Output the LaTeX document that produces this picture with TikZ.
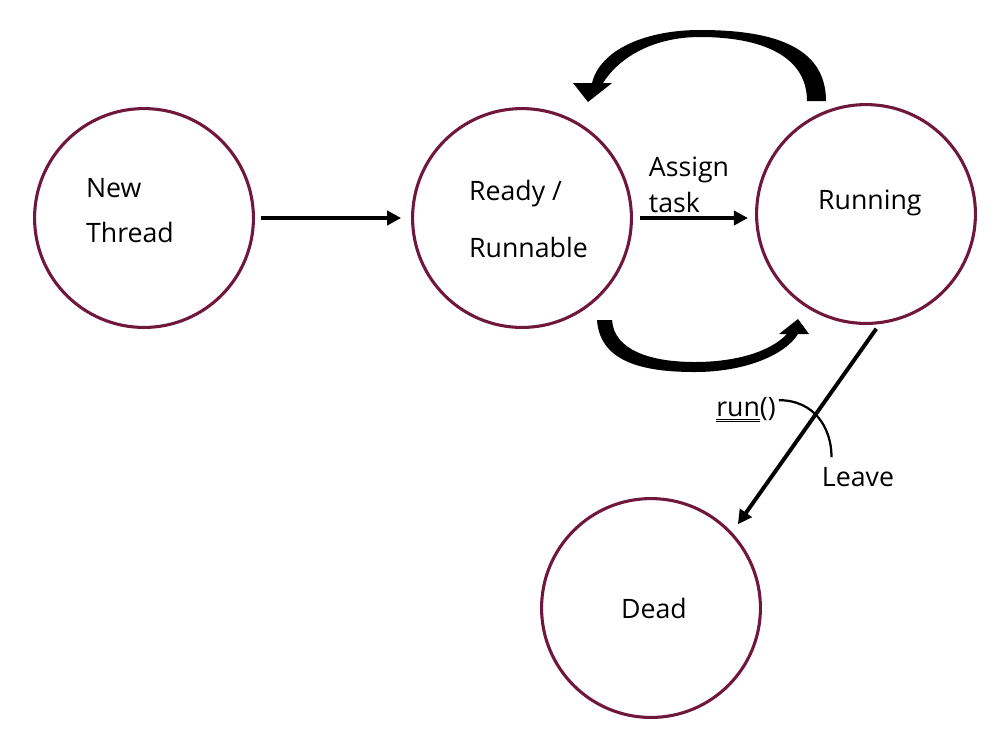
\documentclass[tikz,border=0pt]{standalone}
\usepackage{fontspec}
\setmainfont{Open Sans}
\usetikzlibrary{arrows.meta}

\definecolor{wine}{RGB}{112,24,60}
\tikzstyle{state} = [circle,draw=wine,line width=2.2pt,minimum size=5.47cm]
\tikzstyle{lbl} = [inner sep=2pt,align=left,font=\fontsize{19}{23}\selectfont]
\tikzstyle{flow} = [line width=2.6pt,-{Triangle[length=10pt,width=10pt]}]

\begin{document}
\begin{tikzpicture}[x=0.025cm,y=-0.025cm]
	\useasboundingbox (0,0) rectangle (998,746);

	\node[state] (new) at (144,218) {};
	\node[state] (ready) at (522,218) {};
	\node[state] (run) at (866,214) {};
	\node[state] (dead) at (651,608) {};

	\node[lbl,anchor=west] (newtxt) at (83,211) {New\\[9pt]Thread};
	\node[lbl,anchor=west] (readytxt) at (466,219) {Ready /\\[17pt]Runnable};
	\node[lbl,anchor=west] (runtxt) at (815,203) {Running};
	\node[lbl] (deadtxt) at (654,608) {Dead};

	\node[lbl] (assign) at (689,185) {Assign\\[3pt]task};
	\node[lbl] (runlbl) at (746,410) {\underline{\underline{run}}()};
	\node[lbl] (leave) at (858,477) {Leave};

	\draw[flow,shorten <=4pt,shorten >=7pt] (new) -- (ready);
	\draw[flow,shorten <=5pt,shorten >=5pt] (ready) -- (ready -| run.west);
	\draw[flow,line width=2.8pt,shorten <=4pt,shorten >=7pt] (run.-83) -- (dead.43);

	% curved arrows between ready and running
	\fill (826,101) .. controls (826,45) and (770,30) .. (700,30)
		.. controls (645,30) and (600,50) .. (592,83) -- (573,83) -- (588,102) -- (612,83) -- (603,83)
		.. controls (620,56) and (655,37) .. (700,37)
		.. controls (760,37) and (807,55) .. (807,101) -- cycle;
	\fill (597,320) .. controls (600,365) and (650,372) .. (695,372)
		.. controls (745,372) and (785,355) .. (798,334) -- (809,334) -- (798,319) -- (779,334) -- (787,334)
		.. controls (770,352) and (735,362) .. (695,362)
		.. controls (650,362) and (614,350) .. (612,320) -- cycle;

	\draw[line width=1.6pt] ([yshift=7pt]runlbl.east) .. controls +(35,0) and +(0,-30) .. ([shift={(9pt,5pt)}]leave.north west);
\end{tikzpicture}
\end{document}
